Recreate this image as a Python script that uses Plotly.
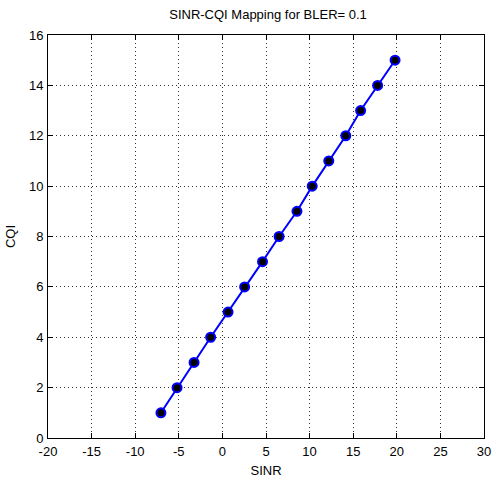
import plotly.graph_objects as go

sinr = [-7.05, -5.2, -3.25, -1.35, 0.65, 2.55, 4.6, 6.5, 8.55, 10.3, 12.2, 14.15, 15.85, 17.8, 19.8]
cqi = [1, 2, 3, 4, 5, 6, 7, 8, 9, 10, 11, 12, 13, 14, 15]
x_ticks = [-20, -15, -10, -5, 0, 5, 10, 15, 20, 25, 30]
y_ticks = [0, 2, 4, 6, 8, 10, 12, 14, 16]

FONT = "Liberation Sans Narrow, Arial Narrow, Liberation Sans, Arial"

fig = go.Figure()
fig.add_trace(go.Scatter(
    x=sinr, y=cqi, mode="lines+markers",
    line=dict(color="#0000ff", width=2),
    marker=dict(symbol="circle", size=9, color="black", line=dict(color="#0000ff", width=2)),
    showlegend=False,
))

axis_common = dict(
    showline=True, linecolor="black", linewidth=1, mirror="ticks",
    ticks="inside", ticklen=5, tickcolor="black",
    showgrid=True, gridcolor="#333333", gridwidth=1, griddash="1px,3px",
    zeroline=False, tickfont=dict(family=FONT, size=13, color="black"),
)

fig.update_layout(
    width=501, height=486,
    margin=dict(l=48, r=10, t=35, b=46),
    paper_bgcolor="white", plot_bgcolor="white",
    title=dict(text="SINR-CQI Mapping for BLER= 0.1", x=0.535, xanchor="center",
               y=0.97, yanchor="middle",
               font=dict(family=FONT, size=13, color="black")),
    xaxis=dict(range=[-20, 30], tickvals=x_ticks, ticktext=[str(v) for v in x_ticks],
               ticklabelstandoff=1,
               title=dict(text="SINR", font=dict(family=FONT, size=13, color="black"), standoff=8),
               **axis_common),
    yaxis=dict(range=[0, 16], tickvals=y_ticks, ticktext=[str(v) for v in y_ticks],
               ticklabelstandoff=1,
               title=dict(text="CQI", font=dict(family=FONT, size=13, color="black"), standoff=10),
               **axis_common),
)

fig.write_html("out.html")
